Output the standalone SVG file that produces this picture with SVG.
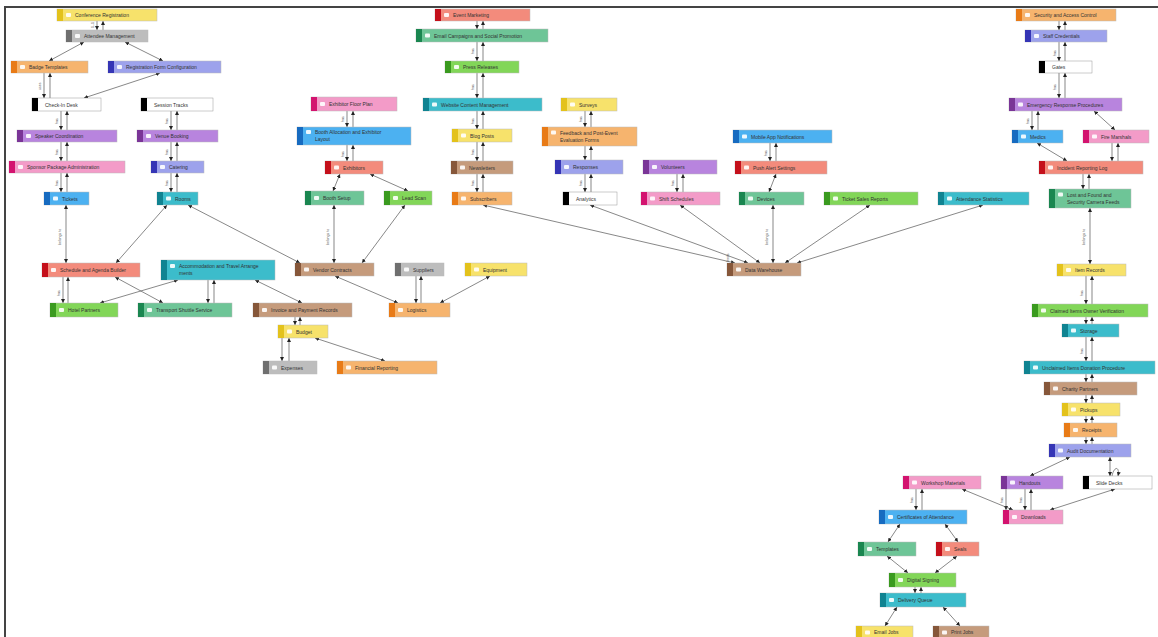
<svg xmlns="http://www.w3.org/2000/svg" width="1158" height="637" viewBox="0 0 1158 637">
<defs>
<marker id="a" viewBox="0 0 6 6" refX="6" refY="3" markerWidth="4" markerHeight="4" markerUnits="userSpaceOnUse" orient="auto-start-reverse"><path d="M0,0 L6,3 L0,6 z" fill="#222"/></marker>
<style>
.node text{font-family:"Liberation Sans",Arial,sans-serif;font-size:5px;fill:#333;dominant-baseline:central}
.b{stroke:#bbb;stroke-width:0.5}
.ic{fill:#fff;opacity:0.9}
.yl .b{fill:#f7e26b}.yl .s{fill:#e3c21c}
.gy .b{fill:#bdbdbd}.gy .s{fill:#6f6f6f}
.or .b{fill:#f6b46e}.or .s{fill:#e87b17}
.pw .b{fill:#9da2ec}.pw .s{fill:#3535b5}
.wh .b{fill:#fff;stroke:#999}.wh .s{fill:#000}.wh .ic{fill:#ddd}
.pu .b{fill:#b884de}.pu .s{fill:#7a3597}
.pk .b{fill:#f39bc8}.pk .s{fill:#d3136f}
.bl .b{fill:#4cb1f1}.bl .s{fill:#176bc0}
.te .b{fill:#3cbccb}.te .s{fill:#108391}
.rd .b{fill:#f38b7c}.rd .s{fill:#c4101b}
.gr .b{fill:#82d658}.gr .s{fill:#3a9a1f}
.mn .b{fill:#6ec597}.mn .s{fill:#1a8650}
.br .b{fill:#c59b7c}.br .s{fill:#86573a}
#edges line,#edges path{stroke:#555;stroke-width:0.7;fill:none}
#edges .m{marker-end:url(#a)}
#edges .d{marker-start:url(#a);marker-end:url(#a)}
#edges text{font-family:"Liberation Sans",Arial,sans-serif;font-size:3.5px;fill:#555}
.frame{stroke:#444;stroke-width:2;fill:none}
</style>
</defs>
<rect width="1158" height="637" fill="#fff"/>
<path class="frame" d="M5,637 L5,7 L1158,7"/>

<g id="edges">
<!-- left cluster -->
<line class="m" x1="97" y1="21" x2="97" y2="30"/><line class="m" x1="103" y1="30" x2="103" y2="21"/>
<line class="d" x1="84" y1="42" x2="49" y2="61"/>
<line class="d" x1="125" y1="42" x2="163" y2="61"/>
<line class="m" x1="44" y1="73" x2="44" y2="98"/><line class="m" x1="50" y1="98" x2="50" y2="73"/>
<line class="d" x1="160" y1="73" x2="84" y2="98"/>
<line class="m" x1="61" y1="111" x2="61" y2="130"/><line class="m" x1="67" y1="130" x2="67" y2="111"/>
<line class="m" x1="171" y1="111" x2="171" y2="130"/><line class="m" x1="177" y1="130" x2="177" y2="111"/>
<line class="m" x1="61" y1="142" x2="61" y2="161"/><line class="m" x1="67" y1="161" x2="67" y2="142"/>
<line class="m" x1="171" y1="142" x2="171" y2="161"/><line class="m" x1="177" y1="161" x2="177" y2="142"/>
<line class="m" x1="61" y1="173" x2="61" y2="192"/><line class="m" x1="67" y1="192" x2="67" y2="173"/>
<line class="m" x1="171" y1="173" x2="171" y2="192"/><line class="m" x1="177" y1="192" x2="177" y2="173"/>
<line class="d" x1="66" y1="205" x2="66" y2="263"/>
<line class="d" x1="167" y1="205" x2="116" y2="263"/>
<line class="d" x1="188" y1="205" x2="300" y2="263"/>
<line class="m" x1="63" y1="277" x2="63" y2="303"/><line class="m" x1="68" y1="303" x2="68" y2="277"/>
<line class="d" x1="115" y1="277" x2="163" y2="303"/>
<line class="d" x1="178" y1="280" x2="100" y2="303"/>
<line class="m" x1="208" y1="280" x2="208" y2="303"/><line class="m" x1="214" y1="303" x2="214" y2="280"/>
<line class="d" x1="255" y1="280" x2="302" y2="303"/>
<line class="m" x1="295" y1="317" x2="295" y2="325"/><line class="m" x1="300" y1="325" x2="300" y2="317"/>
<line class="m" x1="282" y1="338" x2="282" y2="361"/><line class="m" x1="289" y1="361" x2="289" y2="338"/>
<line class="d" x1="315" y1="338" x2="385" y2="361"/>
<line class="d" x1="335" y1="276" x2="398" y2="303"/>
<line class="m" x1="416" y1="276" x2="416" y2="303"/><line class="m" x1="421" y1="303" x2="421" y2="276"/>
<line class="d" x1="490" y1="276" x2="440" y2="303"/>
<line class="d" x1="334" y1="205" x2="334" y2="263"/>
<line class="d" x1="405" y1="205" x2="362" y2="263"/>
<line class="m" x1="347" y1="111" x2="347" y2="127"/><line class="m" x1="353" y1="127" x2="353" y2="111"/>
<line class="m" x1="347" y1="145" x2="347" y2="161"/><line class="m" x1="353" y1="161" x2="353" y2="145"/>
<line class="d" x1="340" y1="174" x2="333" y2="191"/>
<line class="d" x1="370" y1="174" x2="408" y2="191"/>
<!-- middle -->
<line class="m" x1="477" y1="21" x2="477" y2="29"/><line class="m" x1="483" y1="29" x2="483" y2="21"/>
<line class="m" x1="477" y1="42" x2="477" y2="61"/><line class="m" x1="483" y1="61" x2="483" y2="42"/>
<line class="m" x1="477" y1="73" x2="477" y2="98"/><line class="m" x1="483" y1="98" x2="483" y2="73"/>
<line class="m" x1="477" y1="111" x2="477" y2="129"/><line class="m" x1="483" y1="129" x2="483" y2="111"/>
<line class="m" x1="477" y1="142" x2="477" y2="161"/><line class="m" x1="483" y1="161" x2="483" y2="142"/>
<line class="m" x1="477" y1="174" x2="477" y2="192"/><line class="m" x1="483" y1="192" x2="483" y2="174"/>
<line class="m" x1="585" y1="111" x2="585" y2="127"/><line class="m" x1="591" y1="127" x2="591" y2="111"/>
<line class="m" x1="585" y1="146" x2="585" y2="160"/><line class="m" x1="591" y1="160" x2="591" y2="146"/>
<line class="m" x1="585" y1="174" x2="585" y2="192"/><line class="m" x1="591" y1="192" x2="591" y2="174"/>
<line class="m" x1="677" y1="174" x2="677" y2="192"/><line class="m" x1="683" y1="192" x2="683" y2="174"/>
<line class="m" x1="770" y1="143" x2="770" y2="161"/><line class="m" x1="776" y1="161" x2="776" y2="143"/>
<line class="d" x1="776" y1="174" x2="769" y2="192"/>
<line class="d" x1="483" y1="205" x2="735" y2="263"/>
<line class="d" x1="590" y1="205" x2="748" y2="263"/>
<line class="d" x1="680" y1="205" x2="760" y2="263"/>
<line class="d" x1="773" y1="205" x2="773" y2="263"/>
<line class="d" x1="870" y1="205" x2="785" y2="263"/>
<line class="d" x1="983" y1="205" x2="797" y2="263"/>
<!-- right -->
<line class="m" x1="1059" y1="21" x2="1059" y2="30"/><line class="m" x1="1065" y1="30" x2="1065" y2="21"/>
<line class="m" x1="1059" y1="42" x2="1059" y2="61"/><line class="m" x1="1065" y1="61" x2="1065" y2="42"/>
<line class="m" x1="1059" y1="73" x2="1059" y2="98"/><line class="m" x1="1065" y1="98" x2="1065" y2="73"/>
<line class="m" x1="1032" y1="111" x2="1032" y2="130"/><line class="m" x1="1038" y1="130" x2="1038" y2="111"/>
<line class="d" x1="1094" y1="111" x2="1115" y2="130"/>
<line class="d" x1="1037" y1="143" x2="1067" y2="161"/>
<line class="m" x1="1112" y1="143" x2="1112" y2="161"/><line class="m" x1="1118" y1="161" x2="1118" y2="143"/>
<line class="m" x1="1083" y1="174" x2="1083" y2="189"/><line class="m" x1="1089" y1="189" x2="1089" y2="174"/>
<line class="d" x1="1090" y1="208" x2="1090" y2="264"/>
<line class="m" x1="1086" y1="276" x2="1086" y2="304"/><line class="m" x1="1092" y1="304" x2="1092" y2="276"/>
<line class="m" x1="1086" y1="317" x2="1086" y2="324"/><line class="m" x1="1092" y1="324" x2="1092" y2="317"/>
<line class="m" x1="1086" y1="337" x2="1086" y2="361"/><line class="m" x1="1092" y1="361" x2="1092" y2="337"/>
<line class="m" x1="1086" y1="374" x2="1086" y2="382"/><line class="m" x1="1092" y1="382" x2="1092" y2="374"/>
<line class="m" x1="1086" y1="395" x2="1086" y2="403"/><line class="m" x1="1092" y1="403" x2="1092" y2="395"/>
<line class="m" x1="1086" y1="416" x2="1086" y2="423"/><line class="m" x1="1092" y1="423" x2="1092" y2="416"/>
<line class="m" x1="1086" y1="437" x2="1086" y2="444"/><line class="m" x1="1092" y1="444" x2="1092" y2="437"/>
<line class="d" x1="1070" y1="457" x2="1030" y2="476"/>
<line class="d" x1="1110" y1="457" x2="1110" y2="476"/>
<path class="m" d="M1112,476 C1114,466 1120,466 1118,476"/>
<line class="m" x1="1025" y1="489" x2="1025" y2="510"/><line class="m" x1="1031" y1="510" x2="1031" y2="489"/>
<line class="m" x1="1006" y1="489" x2="1006" y2="510"/>
<line class="d" x1="962" y1="489" x2="1013" y2="510"/>
<line class="d" x1="1115" y1="489" x2="1050" y2="510"/>
<line class="m" x1="916" y1="489" x2="916" y2="510"/><line class="m" x1="922" y1="510" x2="922" y2="489"/>
<line class="d" x1="900" y1="524" x2="888" y2="542"/>
<line class="d" x1="945" y1="524" x2="958" y2="542"/>
<line class="d" x1="887" y1="556" x2="908" y2="573"/>
<line class="d" x1="957" y1="556" x2="935" y2="573"/>
<line class="m" x1="915" y1="587" x2="915" y2="593"/><line class="m" x1="921" y1="593" x2="921" y2="587"/>
<line class="d" x1="897" y1="607" x2="885" y2="626"/>
<line class="d" x1="943" y1="607" x2="960" y2="626"/>
<!-- edge labels -->
<text transform="translate(94,28) rotate(-90)">1..1</text>
<text transform="translate(41,90) rotate(-90)">uses</text>
<text transform="translate(58,124) rotate(-90)">has</text>
<text transform="translate(168,124) rotate(-90)">has</text>
<text transform="translate(58,155) rotate(-90)">has</text>
<text transform="translate(168,155) rotate(-90)">has</text>
<text transform="translate(58,186) rotate(-90)">has</text>
<text transform="translate(168,186) rotate(-90)">has</text>
<text transform="translate(61,245) rotate(-90)">belongs to</text>
<text transform="translate(60,296) rotate(-90)">has</text>
<text transform="translate(329,245) rotate(-90)">belongs to</text>
<text transform="translate(344,122) rotate(-90)">has</text>
<text transform="translate(344,157) rotate(-90)">has</text>
<text transform="translate(474,54) rotate(-90)">has</text>
<text transform="translate(474,90) rotate(-90)">has</text>
<text transform="translate(474,124) rotate(-90)">has</text>
<text transform="translate(474,155) rotate(-90)">has</text>
<text transform="translate(474,186) rotate(-90)">has</text>
<text transform="translate(582,122) rotate(-90)">has</text>
<text transform="translate(582,186) rotate(-90)">has</text>
<text transform="translate(674,186) rotate(-90)">has</text>
<text transform="translate(767,156) rotate(-90)">has</text>
<text transform="translate(768,245) rotate(-90)">belongs to</text>
<text transform="translate(729,262) rotate(-90)">feeds</text>
<text transform="translate(1056,56) rotate(-90)">has</text>
<text transform="translate(1056,90) rotate(-90)">has</text>
<text transform="translate(1029,124) rotate(-90)">has</text>
<text transform="translate(1085,245) rotate(-90)">belongs to</text>
<text transform="translate(1083,296) rotate(-90)">has</text>
<text transform="translate(1083,354) rotate(-90)">has</text>
<text transform="translate(1022,503) rotate(-90)">has</text>
<text transform="translate(913,503) rotate(-90)">has</text>
<text transform="translate(1003,503) rotate(-90)">has</text>
</g>

<g id="n1" class="node yl"><rect class="b" x="57" y="9" width="100" height="12"/><rect class="s" x="57" y="9" width="6" height="12"/><rect class="ic" x="66" y="13" width="5" height="4" rx="1"/><text x="75" y="15">Conference Registration</text></g>
<g id="n2" class="node gy"><rect class="b" x="66" y="30" width="82" height="12"/><rect class="s" x="66" y="30" width="6" height="12"/><rect class="ic" x="75" y="34" width="5" height="4" rx="1"/><text x="84" y="36">Attendee Management</text></g>
<g id="n3" class="node or"><rect class="b" x="11" y="61" width="77" height="12"/><rect class="s" x="11" y="61" width="6" height="12"/><rect class="ic" x="20" y="65" width="5" height="4" rx="1"/><text x="29" y="67">Badge Templates</text></g>
<g id="n4" class="node pw"><rect class="b" x="108" y="61" width="113" height="12"/><rect class="s" x="108" y="61" width="6" height="12"/><rect class="ic" x="117" y="65" width="5" height="4" rx="1"/><text x="126" y="67">Registration Form Configuration</text></g>
<g id="n5" class="node wh"><rect class="b" x="32" y="98" width="69" height="13"/><rect class="s" x="32" y="98" width="6" height="13"/><text x="45" y="104.5">Check-In Desk</text></g>
<g id="n6" class="node wh"><rect class="b" x="141" y="98" width="72" height="13"/><rect class="s" x="141" y="98" width="6" height="13"/><text x="154" y="104.5">Session Tracks</text></g>
<g id="n7" class="node pu"><rect class="b" x="17" y="130" width="100" height="12"/><rect class="s" x="17" y="130" width="6" height="12"/><rect class="ic" x="26" y="134" width="5" height="4" rx="1"/><text x="35" y="136">Speaker Coordination</text></g>
<g id="n8" class="node pu"><rect class="b" x="137" y="130" width="81" height="12"/><rect class="s" x="137" y="130" width="6" height="12"/><rect class="ic" x="146" y="134" width="5" height="4" rx="1"/><text x="155" y="136">Venue Booking</text></g>
<g id="n9" class="node pk"><rect class="b" x="9" y="161" width="116" height="12"/><rect class="s" x="9" y="161" width="6" height="12"/><rect class="ic" x="18" y="165" width="5" height="4" rx="1"/><text x="27" y="167">Sponsor Package Administration</text></g>
<g id="n10" class="node pw"><rect class="b" x="151" y="161" width="53" height="12"/><rect class="s" x="151" y="161" width="6" height="12"/><rect class="ic" x="160" y="165" width="5" height="4" rx="1"/><text x="169" y="167">Catering</text></g>
<g id="n11" class="node bl"><rect class="b" x="44" y="192" width="45" height="13"/><rect class="s" x="44" y="192" width="6" height="13"/><rect class="ic" x="53" y="196.5" width="5" height="4" rx="1"/><text x="62" y="198.5">Tickets</text></g>
<g id="n12" class="node te"><rect class="b" x="157" y="192" width="41" height="13"/><rect class="s" x="157" y="192" width="6" height="13"/><rect class="ic" x="166" y="196.5" width="5" height="4" rx="1"/><text x="175" y="198.5">Rooms</text></g>
<g id="n13" class="node rd"><rect class="b" x="42" y="263" width="98" height="14"/><rect class="s" x="42" y="263" width="6" height="14"/><rect class="ic" x="51" y="268" width="5" height="4" rx="1"/><text x="60" y="270">Schedule and Agenda Builder</text></g>
<g id="n14" class="node te"><rect class="b" x="161" y="260" width="114" height="20"/><rect class="s" x="161" y="260" width="6" height="20"/><rect class="ic" x="170" y="264" width="5" height="4" rx="1"/><text x="179" y="266">Accommodation and Travel Arrange</text><text x="179" y="273">ments</text></g>
<g id="n15" class="node gr"><rect class="b" x="50" y="303" width="68" height="14"/><rect class="s" x="50" y="303" width="6" height="14"/><rect class="ic" x="59" y="308" width="5" height="4" rx="1"/><text x="68" y="310">Hotel Partners</text></g>
<g id="n16" class="node mn"><rect class="b" x="138" y="303" width="94" height="14"/><rect class="s" x="138" y="303" width="6" height="14"/><rect class="ic" x="147" y="308" width="5" height="4" rx="1"/><text x="156" y="310">Transport Shuttle Service</text></g>
<g id="n17" class="node br"><rect class="b" x="253" y="303" width="99" height="14"/><rect class="s" x="253" y="303" width="6" height="14"/><rect class="ic" x="262" y="308" width="5" height="4" rx="1"/><text x="271" y="310">Invoice and Payment Records</text></g>
<g id="n18" class="node pk"><rect class="b" x="311" y="97" width="86" height="14"/><rect class="s" x="311" y="97" width="6" height="14"/><rect class="ic" x="320" y="102" width="5" height="4" rx="1"/><text x="329" y="104">Exhibitor Floor Plan</text></g>
<g id="n19" class="node bl"><rect class="b" x="297" y="127" width="114" height="18"/><rect class="s" x="297" y="127" width="6" height="18"/><rect class="ic" x="306" y="130" width="5" height="4" rx="1"/><text x="315" y="132">Booth Allocation and Exhibitor</text><text x="315" y="139">Layout</text></g>
<g id="n20" class="node rd"><rect class="b" x="325" y="161" width="58" height="13"/><rect class="s" x="325" y="161" width="6" height="13"/><rect class="ic" x="334" y="165.5" width="5" height="4" rx="1"/><text x="343" y="167.5">Exhibitors</text></g>
<g id="n21" class="node mn"><rect class="b" x="305" y="191" width="59" height="14"/><rect class="s" x="305" y="191" width="6" height="14"/><rect class="ic" x="314" y="196" width="5" height="4" rx="1"/><text x="323" y="198">Booth Setup</text></g>
<g id="n22" class="node gr"><rect class="b" x="384" y="191" width="48" height="14"/><rect class="s" x="384" y="191" width="6" height="14"/><rect class="ic" x="393" y="196" width="5" height="4" rx="1"/><text x="402" y="198">Lead Scan</text></g>
<g id="n23" class="node br"><rect class="b" x="295" y="263" width="79" height="13"/><rect class="s" x="295" y="263" width="6" height="13"/><rect class="ic" x="304" y="267.5" width="5" height="4" rx="1"/><text x="313" y="269.5">Vendor Contracts</text></g>
<g id="n24" class="node gy"><rect class="b" x="395" y="263" width="49" height="13"/><rect class="s" x="395" y="263" width="6" height="13"/><rect class="ic" x="404" y="267.5" width="5" height="4" rx="1"/><text x="413" y="269.5">Suppliers</text></g>
<g id="n25" class="node yl"><rect class="b" x="465" y="263" width="62" height="13"/><rect class="s" x="465" y="263" width="6" height="13"/><rect class="ic" x="474" y="267.5" width="5" height="4" rx="1"/><text x="483" y="269.5">Equipment</text></g>
<g id="n27" class="node or"><rect class="b" x="389" y="303" width="61" height="14"/><rect class="s" x="389" y="303" width="6" height="14"/><rect class="ic" x="398" y="308" width="5" height="4" rx="1"/><text x="407" y="310">Logistics</text></g>
<g id="n28" class="node yl"><rect class="b" x="278" y="325" width="50" height="13"/><rect class="s" x="278" y="325" width="6" height="13"/><rect class="ic" x="287" y="329.5" width="5" height="4" rx="1"/><text x="296" y="331.5">Budget</text></g>
<g id="n29" class="node gy"><rect class="b" x="263" y="361" width="54" height="13"/><rect class="s" x="263" y="361" width="6" height="13"/><rect class="ic" x="272" y="365.5" width="5" height="4" rx="1"/><text x="281" y="367.5">Expenses</text></g>
<g id="n30" class="node or"><rect class="b" x="337" y="361" width="100" height="13"/><rect class="s" x="337" y="361" width="6" height="13"/><rect class="ic" x="346" y="365.5" width="5" height="4" rx="1"/><text x="355" y="367.5">Financial Reporting</text></g>
<g id="n31" class="node rd"><rect class="b" x="435" y="9" width="95" height="12"/><rect class="s" x="435" y="9" width="6" height="12"/><rect class="ic" x="444" y="13" width="5" height="4" rx="1"/><text x="453" y="15">Event Marketing</text></g>
<g id="n32" class="node mn"><rect class="b" x="416" y="29" width="132" height="13"/><rect class="s" x="416" y="29" width="6" height="13"/><rect class="ic" x="425" y="33.5" width="5" height="4" rx="1"/><text x="434" y="35.5">Email Campaigns and Social Promotion</text></g>
<g id="n33" class="node gr"><rect class="b" x="445" y="61" width="74" height="12"/><rect class="s" x="445" y="61" width="6" height="12"/><rect class="ic" x="454" y="65" width="5" height="4" rx="1"/><text x="463" y="67">Press Releases</text></g>
<g id="n34" class="node te"><rect class="b" x="423" y="98" width="119" height="13"/><rect class="s" x="423" y="98" width="6" height="13"/><rect class="ic" x="432" y="102.5" width="5" height="4" rx="1"/><text x="441" y="104.5">Website Content Management</text></g>
<g id="n35" class="node yl"><rect class="b" x="452" y="129" width="60" height="13"/><rect class="s" x="452" y="129" width="6" height="13"/><rect class="ic" x="461" y="133.5" width="5" height="4" rx="1"/><text x="470" y="135.5">Blog Posts</text></g>
<g id="n36" class="node br"><rect class="b" x="451" y="161" width="62" height="13"/><rect class="s" x="451" y="161" width="6" height="13"/><rect class="ic" x="460" y="165.5" width="5" height="4" rx="1"/><text x="469" y="167.5">Newsletters</text></g>
<g id="n37" class="node or"><rect class="b" x="452" y="192" width="60" height="13"/><rect class="s" x="452" y="192" width="6" height="13"/><rect class="ic" x="461" y="196.5" width="5" height="4" rx="1"/><text x="470" y="198.5">Subscribers</text></g>
<g id="n38" class="node yl"><rect class="b" x="561" y="98" width="56" height="13"/><rect class="s" x="561" y="98" width="6" height="13"/><rect class="ic" x="570" y="102.5" width="5" height="4" rx="1"/><text x="579" y="104.5">Surveys</text></g>
<g id="n39" class="node or"><rect class="b" x="542" y="127" width="95" height="19"/><rect class="s" x="542" y="127" width="6" height="19"/><rect class="ic" x="551" y="130.5" width="5" height="4" rx="1"/><text x="560" y="132.5">Feedback and Post-Event</text><text x="560" y="139.5">Evaluation Forms</text></g>
<g id="n40" class="node pw"><rect class="b" x="555" y="160" width="68" height="14"/><rect class="s" x="555" y="160" width="6" height="14"/><rect class="ic" x="564" y="165" width="5" height="4" rx="1"/><text x="573" y="167">Responses</text></g>
<g id="n41" class="node wh"><rect class="b" x="563" y="192" width="54" height="13"/><rect class="s" x="563" y="192" width="6" height="13"/><text x="576" y="198.5">Analytics</text></g>
<g id="n42" class="node pu"><rect class="b" x="643" y="160" width="74" height="14"/><rect class="s" x="643" y="160" width="6" height="14"/><rect class="ic" x="652" y="165" width="5" height="4" rx="1"/><text x="661" y="167">Volunteers</text></g>
<g id="n43" class="node pk"><rect class="b" x="641" y="192" width="79" height="13"/><rect class="s" x="641" y="192" width="6" height="13"/><rect class="ic" x="650" y="196.5" width="5" height="4" rx="1"/><text x="659" y="198.5">Shift Schedules</text></g>
<g id="n44" class="node bl"><rect class="b" x="733" y="130" width="99" height="13"/><rect class="s" x="733" y="130" width="6" height="13"/><rect class="ic" x="742" y="134.5" width="5" height="4" rx="1"/><text x="751" y="136.5">Mobile App Notifications</text></g>
<g id="n45" class="node rd"><rect class="b" x="735" y="161" width="92" height="13"/><rect class="s" x="735" y="161" width="6" height="13"/><rect class="ic" x="744" y="165.5" width="5" height="4" rx="1"/><text x="753" y="167.5">Push Alert Settings</text></g>
<g id="n46" class="node mn"><rect class="b" x="739" y="192" width="65" height="13"/><rect class="s" x="739" y="192" width="6" height="13"/><rect class="ic" x="748" y="196.5" width="5" height="4" rx="1"/><text x="757" y="198.5">Devices</text></g>
<g id="n47" class="node br"><rect class="b" x="727" y="263" width="74" height="13"/><rect class="s" x="727" y="263" width="6" height="13"/><rect class="ic" x="736" y="267.5" width="5" height="4" rx="1"/><text x="745" y="269.5">Data Warehouse</text></g>
<g id="n48" class="node gr"><rect class="b" x="824" y="192" width="94" height="13"/><rect class="s" x="824" y="192" width="6" height="13"/><rect class="ic" x="833" y="196.5" width="5" height="4" rx="1"/><text x="842" y="198.5">Ticket Sales Reports</text></g>
<g id="n49" class="node te"><rect class="b" x="938" y="192" width="91" height="13"/><rect class="s" x="938" y="192" width="6" height="13"/><rect class="ic" x="947" y="196.5" width="5" height="4" rx="1"/><text x="956" y="198.5">Attendance Statistics</text></g>
<g id="n50" class="node or"><rect class="b" x="1016" y="9" width="100" height="12"/><rect class="s" x="1016" y="9" width="6" height="12"/><rect class="ic" x="1025" y="13" width="5" height="4" rx="1"/><text x="1034" y="15">Security and Access Control</text></g>
<g id="n51" class="node pw"><rect class="b" x="1025" y="30" width="82" height="12"/><rect class="s" x="1025" y="30" width="6" height="12"/><rect class="ic" x="1034" y="34" width="5" height="4" rx="1"/><text x="1043" y="36">Staff Credentials</text></g>
<g id="n52" class="node wh"><rect class="b" x="1039" y="61" width="53" height="12"/><rect class="s" x="1039" y="61" width="6" height="12"/><text x="1052" y="67">Gates</text></g>
<g id="n53" class="node pu"><rect class="b" x="1009" y="98" width="113" height="13"/><rect class="s" x="1009" y="98" width="6" height="13"/><rect class="ic" x="1018" y="102.5" width="5" height="4" rx="1"/><text x="1027" y="104.5">Emergency Response Procedures</text></g>
<g id="n54" class="node bl"><rect class="b" x="1012" y="130" width="51" height="13"/><rect class="s" x="1012" y="130" width="6" height="13"/><rect class="ic" x="1021" y="134.5" width="5" height="4" rx="1"/><text x="1030" y="136.5">Medics</text></g>
<g id="n55" class="node pk"><rect class="b" x="1083" y="130" width="66" height="13"/><rect class="s" x="1083" y="130" width="6" height="13"/><rect class="ic" x="1092" y="134.5" width="5" height="4" rx="1"/><text x="1101" y="136.5">Fire Marshals</text></g>
<g id="n56" class="node rd"><rect class="b" x="1039" y="161" width="104" height="13"/><rect class="s" x="1039" y="161" width="6" height="13"/><rect class="ic" x="1048" y="165.5" width="5" height="4" rx="1"/><text x="1057" y="167.5">Incident Reporting Log</text></g>
<g id="n57" class="node mn"><rect class="b" x="1049" y="189" width="82" height="19"/><rect class="s" x="1049" y="189" width="6" height="19"/><rect class="ic" x="1058" y="192.5" width="5" height="4" rx="1"/><text x="1067" y="194.5">Lost and Found and</text><text x="1067" y="201.5">Security Camera Feeds</text></g>
<g id="n58" class="node yl"><rect class="b" x="1057" y="264" width="69" height="12"/><rect class="s" x="1057" y="264" width="6" height="12"/><rect class="ic" x="1066" y="268" width="5" height="4" rx="1"/><text x="1075" y="270">Item Records</text></g>
<g id="n59" class="node gr"><rect class="b" x="1032" y="304" width="116" height="13"/><rect class="s" x="1032" y="304" width="6" height="13"/><rect class="ic" x="1041" y="308.5" width="5" height="4" rx="1"/><text x="1050" y="310.5">Claimed Items Owner Verification</text></g>
<g id="n60" class="node te"><rect class="b" x="1062" y="324" width="57" height="13"/><rect class="s" x="1062" y="324" width="6" height="13"/><rect class="ic" x="1071" y="328.5" width="5" height="4" rx="1"/><text x="1080" y="330.5">Storage</text></g>
<g id="n61" class="node te"><rect class="b" x="1024" y="361" width="131" height="13"/><rect class="s" x="1024" y="361" width="6" height="13"/><rect class="ic" x="1033" y="365.5" width="5" height="4" rx="1"/><text x="1042" y="367.5">Unclaimed Items Donation Procedure</text></g>
<g id="n62" class="node br"><rect class="b" x="1044" y="382" width="93" height="13"/><rect class="s" x="1044" y="382" width="6" height="13"/><rect class="ic" x="1053" y="386.5" width="5" height="4" rx="1"/><text x="1062" y="388.5">Charity Partners</text></g>
<g id="n63" class="node yl"><rect class="b" x="1062" y="403" width="58" height="13"/><rect class="s" x="1062" y="403" width="6" height="13"/><rect class="ic" x="1071" y="407.5" width="5" height="4" rx="1"/><text x="1080" y="409.5">Pickups</text></g>
<g id="n64" class="node or"><rect class="b" x="1064" y="423" width="53" height="14"/><rect class="s" x="1064" y="423" width="6" height="14"/><rect class="ic" x="1073" y="428" width="5" height="4" rx="1"/><text x="1082" y="430">Receipts</text></g>
<g id="n65" class="node pw"><rect class="b" x="1049" y="444" width="82" height="13"/><rect class="s" x="1049" y="444" width="6" height="13"/><rect class="ic" x="1058" y="448.5" width="5" height="4" rx="1"/><text x="1067" y="450.5">Audit Documentation</text></g>
<g id="n66" class="node pk"><rect class="b" x="903" y="476" width="78" height="13"/><rect class="s" x="903" y="476" width="6" height="13"/><rect class="ic" x="912" y="480.5" width="5" height="4" rx="1"/><text x="921" y="482.5">Workshop Materials</text></g>
<g id="n67" class="node pu"><rect class="b" x="1001" y="476" width="62" height="13"/><rect class="s" x="1001" y="476" width="6" height="13"/><rect class="ic" x="1010" y="480.5" width="5" height="4" rx="1"/><text x="1019" y="482.5">Handouts</text></g>
<g id="n68" class="node wh"><rect class="b" x="1083" y="476" width="69" height="13"/><rect class="s" x="1083" y="476" width="6" height="13"/><text x="1096" y="482.5">Slide Decks</text></g>
<g id="n69" class="node pk"><rect class="b" x="1003" y="510" width="60" height="14"/><rect class="s" x="1003" y="510" width="6" height="14"/><rect class="ic" x="1012" y="515" width="5" height="4" rx="1"/><text x="1021" y="517">Downloads</text></g>
<g id="n70" class="node bl"><rect class="b" x="879" y="510" width="88" height="14"/><rect class="s" x="879" y="510" width="6" height="14"/><rect class="ic" x="888" y="515" width="5" height="4" rx="1"/><text x="897" y="517">Certificates of Attendance</text></g>
<g id="n71" class="node mn"><rect class="b" x="858" y="542" width="58" height="14"/><rect class="s" x="858" y="542" width="6" height="14"/><rect class="ic" x="867" y="547" width="5" height="4" rx="1"/><text x="876" y="549">Templates</text></g>
<g id="n72" class="node rd"><rect class="b" x="936" y="542" width="43" height="14"/><rect class="s" x="936" y="542" width="6" height="14"/><rect class="ic" x="945" y="547" width="5" height="4" rx="1"/><text x="954" y="549">Seals</text></g>
<g id="n73" class="node gr"><rect class="b" x="889" y="573" width="67" height="14"/><rect class="s" x="889" y="573" width="6" height="14"/><rect class="ic" x="898" y="578" width="5" height="4" rx="1"/><text x="907" y="580">Digital Signing</text></g>
<g id="n74" class="node te"><rect class="b" x="880" y="593" width="86" height="14"/><rect class="s" x="880" y="593" width="6" height="14"/><rect class="ic" x="889" y="598" width="5" height="4" rx="1"/><text x="898" y="600">Delivery Queue</text></g>
<g id="n75" class="node yl"><rect class="b" x="856" y="626" width="57" height="13"/><rect class="s" x="856" y="626" width="6" height="13"/><rect class="ic" x="865" y="630.5" width="5" height="4" rx="1"/><text x="874" y="632">Email Jobs</text></g>
<g id="n76" class="node br"><rect class="b" x="933" y="626" width="56" height="13"/><rect class="s" x="933" y="626" width="6" height="13"/><rect class="ic" x="942" y="630.5" width="5" height="4" rx="1"/><text x="951" y="632">Print Jobs</text></g>
</svg>
